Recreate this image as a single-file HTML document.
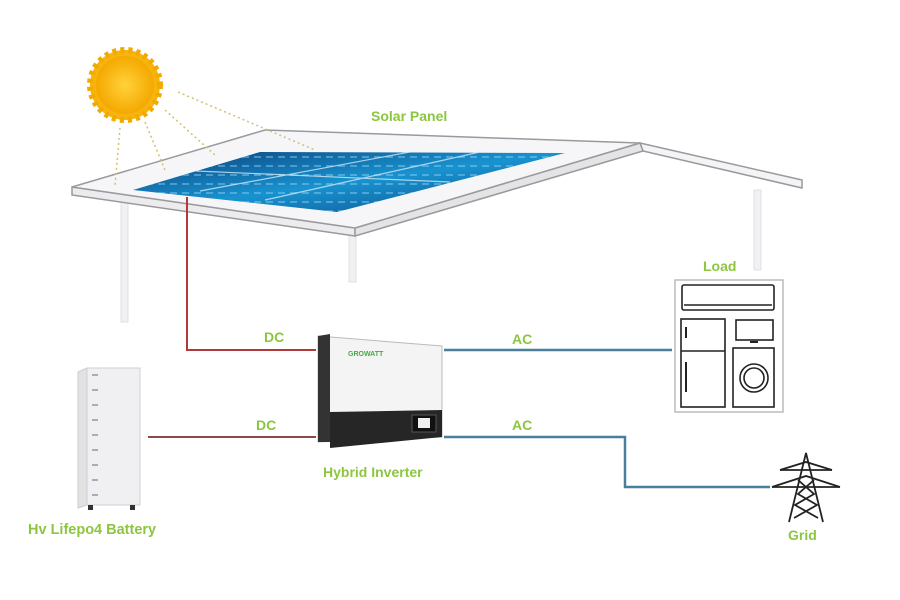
<!DOCTYPE html>
<html><head><meta charset="utf-8"><style>
html,body{margin:0;padding:0;background:#fff}
svg{display:block}
text{font-family:"Liberation Sans",sans-serif;font-weight:bold;fill:#8cc63f;font-size:14px}
</style></head><body>
<svg width="900" height="600" viewBox="0 0 900 600" xmlns="http://www.w3.org/2000/svg">
<defs>
<linearGradient id="pg" x1="0" y1="0" x2="1" y2="1">
<stop offset="0" stop-color="#0b3f7a"/><stop offset="0.5" stop-color="#1893d0"/><stop offset="1" stop-color="#0b4a88"/>
</linearGradient>
<radialGradient id="sg"><stop offset="0" stop-color="#ffd23a"/><stop offset="1" stop-color="#f5a800"/></radialGradient>
<pattern id="cells" width="12" height="9" patternUnits="userSpaceOnUse">
<rect x="2" y="3" width="7" height="2" fill="#8fd3f5" opacity="0.45"/>
</pattern>
</defs>
<g fill="#f1f1f3" stroke="#e0e0e4">
<rect x="121" y="196" width="7" height="126"/>
<rect x="349" y="232" width="7" height="50"/>
<rect x="754" y="190" width="7" height="80"/>
</g>
<polygon points="640,143 802,180 802,188 643,151" fill="#f4f4f6" stroke="#9a9a9e" stroke-width="1.5"/>
<polygon points="72,187 355,228 355,236 72,195" fill="#ececee" stroke="#9a9a9e" stroke-width="1.5"/>
<polygon points="355,228 640,143 643,151 355,236" fill="#e4e4e6" stroke="#9a9a9e" stroke-width="1.5"/>
<polygon points="72,187 265,130 640,143 355,228" fill="#f6f6f8" stroke="#9a9a9e" stroke-width="1.5"/>
<polygon points="133,190 260,152 565,153 337,212" fill="url(#pg)"/>
<polygon points="133,190 260,152 565,153 337,212" fill="url(#cells)"/>
<g stroke="#cfe9f8" stroke-width="1.2" opacity="0.8">
<line x1="196" y1="171" x2="450" y2="182"/>
<line x1="200" y1="191" x2="410" y2="152"/>
<line x1="265" y1="200" x2="480" y2="152"/>
</g>
<circle cx="125" cy="85" r="35" fill="#f6b40e" stroke="#f2a900" stroke-width="6" stroke-dasharray="4 4"/>
<circle cx="125" cy="85" r="29" fill="url(#sg)"/>
<g stroke="#d4c070" stroke-width="1.5" stroke-dasharray="2 3">
<line x1="178" y1="92" x2="315" y2="150"/>
<line x1="165" y1="110" x2="215" y2="155"/>
<line x1="145" y1="122" x2="165" y2="170"/>
<line x1="120" y1="128" x2="115" y2="185"/>
</g>
<text x="371" y="121">Solar Panel</text>
<polyline points="187,197 187,350 316,350" fill="none" stroke="#b03a3a" stroke-width="2"/>
<line x1="148" y1="437" x2="316" y2="437" stroke="#8a4a4a" stroke-width="2"/>
<line x1="444" y1="350" x2="672" y2="350" stroke="#4a7f99" stroke-width="2.5"/>
<polyline points="444,437 625,437 625,487 770,487" fill="none" stroke="#4a7f99" stroke-width="2.5"/>
<text x="264" y="342">DC</text>
<text x="256" y="430">DC</text>
<text x="512" y="344">AC</text>
<text x="512" y="430">AC</text>
<polygon points="318,336 442,346 442,437 318,442" fill="#f4f4f4" stroke="#bbb"/>
<polygon points="318,336 330,334 330,442 318,442" fill="#333"/>
<polygon points="330,412 442,410 442,437 330,448" fill="#262626"/>
<rect x="412" y="415" width="24" height="17" fill="#111" stroke="#555"/>
<rect x="418" y="418" width="12" height="10" fill="#eee"/>
<text x="348" y="356" style="font-size:7px;fill:#4a4">GROWATT</text>
<text x="323" y="477">Hybrid Inverter</text>
<polygon points="78,372 87,368 87,505 78,508" fill="#e2e2e4" stroke="#ccc"/>
<rect x="87" y="368" width="53" height="137" fill="#f0f0f2" stroke="#d0d0d2"/>
<g fill="#aab">
<rect x="92" y="374" width="6" height="2"/><rect x="92" y="389" width="6" height="2"/><rect x="92" y="404" width="6" height="2"/><rect x="92" y="419" width="6" height="2"/><rect x="92" y="434" width="6" height="2"/><rect x="92" y="449" width="6" height="2"/><rect x="92" y="464" width="6" height="2"/><rect x="92" y="479" width="6" height="2"/><rect x="92" y="494" width="6" height="2"/>
</g>
<rect x="88" y="505" width="5" height="5" fill="#333"/><rect x="130" y="505" width="5" height="5" fill="#333"/>
<text x="28" y="534" style="font-size:14.5px">Hv Lifepo4 Battery</text>
<text x="703" y="271">Load</text>
<rect x="675" y="280" width="108" height="132" fill="#fff" stroke="#bbb" stroke-width="1.5"/>
<g fill="none" stroke="#222" stroke-width="1.6">
<rect x="682" y="285" width="92" height="25" rx="2"/>
<line x1="684" y1="305" x2="772" y2="305"/>
<rect x="681" y="319" width="44" height="88"/>
<line x1="681" y1="351" x2="725" y2="351"/>
<rect x="736" y="320" width="37" height="20"/>
<rect x="733" y="348" width="41" height="59"/>
<circle cx="754" cy="378" r="14"/><circle cx="754" cy="378" r="10"/>
</g>
<line x1="686" y1="327" x2="686" y2="338" stroke="#222" stroke-width="2"/>
<line x1="686" y1="362" x2="686" y2="392" stroke="#222" stroke-width="2"/>
<line x1="750" y1="342" x2="758" y2="342" stroke="#222" stroke-width="2"/>
<g fill="none" stroke="#222" stroke-width="1.8">
<polyline points="789,522 806,453 823,522"/>
<line x1="780" y1="470" x2="832" y2="470"/><line x1="772" y1="487" x2="840" y2="487"/>
<polyline points="780,470 806,462 832,470"/><polyline points="772,487 806,476 840,487"/>
<polyline points="798,480 814,494 795,505 818,518"/><polyline points="814,480 798,494 817,505 794,518"/>
</g>
<text x="788" y="540">Grid</text>
</svg>
</body></html>
